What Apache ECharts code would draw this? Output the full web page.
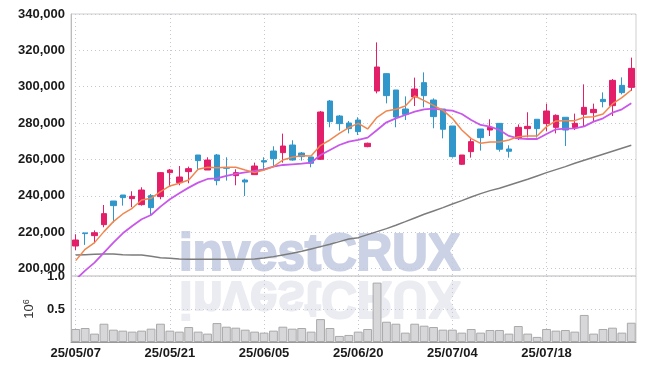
<!DOCTYPE html>
<html><head><meta charset="utf-8">
<script src="https://cdn.jsdelivr.net/npm/echarts@6/dist/echarts.min.js"></script>
<style>html,body{margin:0;padding:0;background:#fff}#c{width:645px;height:370px}</style>
</head><body><div id="c"></div>
<script>
const dates = ['25/05/07','25/05/08','25/05/09','25/05/12','25/05/13','25/05/14','25/05/15','25/05/16','25/05/19','25/05/20',
'25/05/21','25/05/22','25/05/23','25/05/26','25/05/27','25/05/28','25/05/29','25/05/30','25/06/02','25/06/04',
'25/06/05','25/06/09','25/06/10','25/06/11','25/06/12','25/06/13','25/06/16','25/06/17','25/06/18','25/06/19',
'25/06/20','25/06/23','25/06/24','25/06/25','25/06/26','25/06/27','25/06/30','25/07/01','25/07/02','25/07/03',
'25/07/04','25/07/07','25/07/08','25/07/09','25/07/10','25/07/11','25/07/14','25/07/15','25/07/16','25/07/17',
'25/07/18','25/07/21','25/07/22','25/07/23','25/07/24','25/07/25','25/07/28','25/07/29','25/07/30','25/07/31'];
const opens = [212400,219600,218100,224150,237150,240450,238450,235150,240100,239550,
252750,247250,253300,262450,254200,262450,255500,251100,248700,251650,
259350,264650,263750,267950,263550,261350,260100,292150,283900,280050,
281700,267050,297650,307200,298200,287750,294350,302250,292700,287750,
278400,257350,264300,276750,276200,279850,265750,271450,276950,282100,
279700,277650,283200,277500,284800,285750,293050,289600,300750,299650];
const closes = [215700,219200,219700,230200,234600,239000,239700,243200,233500,252750,
254200,250350,254950,259350,259700,248350,255150,252750,247600,256400,
258600,260450,267400,259700,261550,257900,286100,280800,279700,276950,
275300,268900,310850,295100,283350,284800,298750,295100,283550,276600,
261550,262450,269800,272000,277650,265600,264500,277650,278200,276950,
286650,284250,276200,279850,288650,287550,291800,303500,296750,310100];
const lows = [210200,213000,213900,222700,225250,234600,233700,234600,229100,238100,
245050,245800,246900,254750,254200,245800,248350,245800,239900,251650,
254600,256050,258250,259350,259350,255700,259700,277700,275850,274350,
273450,266700,296350,290850,277700,281700,289400,288650,277150,271600,
261000,256950,261000,264850,272900,264300,261000,270700,272150,272000,
275450,274350,267400,276200,278050,280800,288650,283900,295800,297650];
const highs = [218800,219600,221000,234950,237150,240450,242500,244700,241000,253100,
254750,256400,256050,262450,261200,263000,261200,254600,249450,258250,
261200,267250,274200,270550,264100,261350,286650,292700,284450,281150,
283200,269250,324400,307500,298200,294700,305000,307900,293600,287750,
278400,262450,271600,276750,282100,279850,267800,279300,285950,282100,
290700,284800,283200,285200,301300,290700,296900,304250,305150,316000];
const maShort = [204350,210590,214250,220300,225800,230020,233140,237720,238640,242300,
245420,246880,248720,254580,255680,255500,255680,255680,254200,252750,
254200,256050,259700,261180,262100,261900,267780,270710,274370,277490,
279870,276760,283180,286660,287570,289400,294900,292340,289770,287020,
282630,276200,271450,268880,269610,269610,270710,272540,272910,272910,
278040,281160,281340,281340,283180,283540,285010,290510,293990,298200];
const maMid = [194000,198860,203260,208760,214250,219390,223420,227090,229470,234050,
238080,241380,244500,247250,249270,249630,250920,252020,252930,253660,
254580,256050,256960,257330,257700,258240,262460,265210,267960,269790,
270710,271990,276200,280430,282630,284460,286290,287570,287940,287210,
286840,285010,281710,278960,278040,276200,272910,271630,271260,271260,
274010,276580,276950,277130,278220,280790,282630,285740,287570,290870];
const maLong = [207470,207650,207830,208020,208020,207650,207470,207470,206740,206000,
205640,205270,205090,205090,205090,205090,205090,205090,205090,205270,
205820,206560,207470,208390,209490,210770,212050,213340,214800,216270,
217000,218650,220300,221950,223790,225800,227820,229840,231670,233510,
235510,237350,239360,241200,242850,244130,245780,247430,249080,250920,
252750,254400,256050,257880,259530,261180,262830,264480,266130,267780];
const volumes = [0.197,0.212,0.127,0.277,0.187,0.172,0.157,0.172,0.202,0.277,
0.172,0.157,0.227,0.157,0.127,0.287,0.232,0.217,0.187,0.157,
0.142,0.172,0.232,0.202,0.212,0.157,0.347,0.212,0.092,0.107,
0.157,0.197,0.900,0.307,0.277,0.142,0.277,0.247,0.227,0.187,
0.187,0.142,0.197,0.142,0.182,0.182,0.127,0.242,0.127,0.077,
0.197,0.172,0.182,0.157,0.410,0.127,0.197,0.217,0.142,0.292];
const priceMin = 195900, priceMax = 340000;
const volMax = 1.0;

const chart = echarts.init(document.getElementById('c'), null, {renderer:'canvas'});
const candle = dates.map((d,i)=>[opens[i], closes[i], lows[i], highs[i]]);
const gridLine = {show:true, interval:9, alignWithLabel:true, lineStyle:{color:'#c3c7d6', type:[1,3], width:1}};
const lblFont = {color:'#1a1a1a', fontSize:13, fontFamily:'Liberation Sans', fontWeight:'bold'};
const option = {
  animation:false,
  backgroundColor:'#fff',
  grid:[
    {left:71, right:9, top:14, height:262, show:true, borderColor:'#cfcfcf', borderWidth:1, backgroundColor:'transparent'},
    {left:71, right:9, top:276, height:66, show:true, borderColor:'#cfcfcf', borderWidth:1, backgroundColor:'transparent'}
  ],
  xAxis:[
    {type:'category', gridIndex:0, data:dates, boundaryGap:true, axisLine:{show:false}, axisTick:{show:false},
     axisLabel:{show:false}, splitLine:gridLine},
    {type:'category', gridIndex:1, data:dates, boundaryGap:true, axisLine:{show:true, lineStyle:{color:'#999'}}, axisTick:{show:false},
     axisLabel:Object.assign({interval:9, margin:5}, lblFont), splitLine:gridLine}
  ],
  yAxis:[
    {type:'value', gridIndex:0, min:priceMin, max:priceMax, splitNumber:7, minInterval:20000, maxInterval:20000,
     axisLine:{show:true, lineStyle:{color:'#bbb'}}, axisTick:{show:false},
     axisLabel:Object.assign({showMinLabel:false, margin:6, formatter:v=>String(Math.round(v)).replace(/\B(?=(\d{3})+(?!\d))/g, ',')}, lblFont),
     splitLine:{lineStyle:{color:'#c3c7d6', type:[1,3]}}},
    {type:'value', gridIndex:1, min:0, max:volMax, interval:0.5,
     name:'{a|10}{b|6}', nameLocation:'middle', nameRotate:90, nameGap:28,
     nameTextStyle:{rich:{a:{fontSize:13, color:'#333', fontFamily:'Liberation Sans', lineHeight:16}, b:{fontSize:9, color:'#333', fontFamily:'Liberation Sans', lineHeight:16, verticalAlign:'top'}}},
     axisLine:{show:true, lineStyle:{color:'#bbb'}}, axisTick:{show:false},
     axisLabel:Object.assign({showMinLabel:false, margin:6, formatter:v=>v.toFixed(1)}, lblFont),
     splitLine:{lineStyle:{color:'#c3c7d6', type:[1,3]}}}
  ],
  graphic:[
    {type:'text', x:179, y:256, z:-10, scaleX:0.965, style:{text:'investCRUX', font:'bold 51px "Liberation Sans"', fill:'#cbd2e5', stroke:'#cbd2e5', lineWidth:2, verticalAlign:'middle', align:'left'}},
    {type:'text', x:179, y:256, z:-10, scaleX:0.965, scaleY:-1, originX:0, originY:20, style:{text:'investCRUX', font:'bold 51px "Liberation Sans"', fill:'#eaecf2', stroke:'#eaecf2', lineWidth:2, verticalAlign:'middle', align:'left'}}
  ],
  series:[
    {type:'candlestick', xAxisIndex:0, yAxisIndex:0, data:candle, barWidth:6,
     itemStyle:{color:'#e21f68', color0:'#3197cb', borderColor:'#e21f68', borderColor0:'#3197cb', borderWidth:1}},
    {type:'line', xAxisIndex:0, yAxisIndex:0, data:maLong, showSymbol:false, symbol:'none', lineStyle:{color:'#7c7c7c', width:1.5}},
    {type:'line', xAxisIndex:0, yAxisIndex:0, data:maMid, showSymbol:false, symbol:'none', lineStyle:{color:'#c957ea', width:1.8}},
    {type:'line', xAxisIndex:0, yAxisIndex:0, data:maShort, showSymbol:false, symbol:'none', lineStyle:{color:'#f0874f', width:1.5}},
    {type:'bar', xAxisIndex:1, yAxisIndex:1, data:volumes, barCategoryGap:'6%',
     itemStyle:{color:'#d7d7d9', borderColor:'#a9a9ab', borderWidth:1}}
  ]
};
chart.setOption(option);
</script></body></html>
